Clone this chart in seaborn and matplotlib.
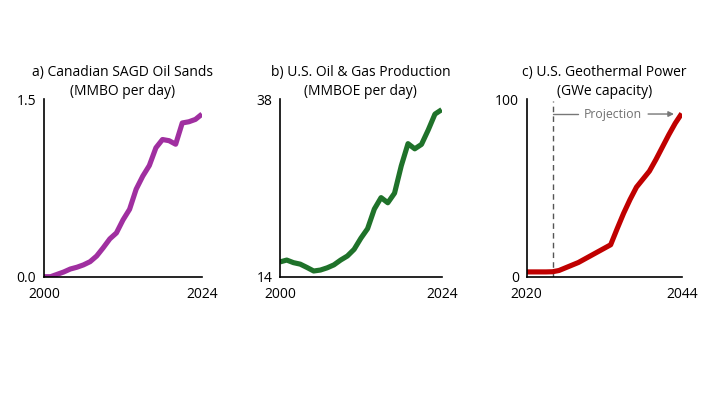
import matplotlib
matplotlib.use("Agg")
import matplotlib.pyplot as plt
import seaborn as sns
import pandas as pd

# ---- data ----
years_a = list(range(2000, 2025))
sagd = [0.0, 0.0, 0.02, 0.04, 0.065, 0.08, 0.10, 0.127, 0.175, 0.245, 0.32, 0.37,
        0.48, 0.57, 0.74, 0.85, 0.94, 1.09, 1.16, 1.15, 1.12, 1.30, 1.31, 1.33, 1.375]

years_b = list(range(2000, 2025))
us_oil_gas = [16.0, 16.25, 15.9, 15.7, 15.25, 14.77, 14.9, 15.2, 15.6, 16.25, 16.8, 17.7,
              19.2, 20.5, 23.15, 24.7, 24.0, 25.3, 29.0, 32.0, 31.3, 31.9, 33.85, 36.0, 36.6]

years_c = list(range(2020, 2045))
geothermal = [2.7, 2.7, 2.7, 2.7, 2.8, 3.5, 5.0, 6.5, 8.0, 10.0, 12.0, 14.0, 16.0, 18.0,
              27.0, 35.7, 43.5, 50.5, 55.0, 59.5, 66.0, 73.0, 80.0, 86.5, 92.0]

titles = ["a) Canadian SAGD Oil Sands\n(MMBO per day)",
          "b) U.S. Oil & Gas Production\n(MMBOE per day)",
          "c) U.S. Geothermal Power\n(GWe capacity)"]
y_ticks = [[0.0, 1.5], [14, 38], [0, 100]]
y_ticklabels = [["0.0", "1.5"], ["14", "38"], ["0", "100"]]
x_ticks = [[2000, 2024], [2000, 2024], [2020, 2044]]
colors = ["#A02FA0", "#1F722A", "#C00000"]
projection_start = 2024
projection_label = "Projection"

sns.set_theme(style="white")
plt.rcParams["font.family"] = ["Open Sans", "DejaVu Sans"]

fig = plt.figure(figsize=(7.12, 4.0), dpi=100)
positions = [
    [44 / 712, 123.3 / 400, 158 / 712, 177.4 / 400],
    [280 / 712, 123.3 / 400, 161.7 / 712, 177.4 / 400],
    [526.7 / 712, 123.3 / 400, 155 / 712, 177.4 / 400],
]
frames = [
    pd.DataFrame({"year": years_a, "value": sagd}),
    pd.DataFrame({"year": years_b, "value": us_oil_gas}),
    pd.DataFrame({"year": years_c, "value": geothermal}),
]

axes = []
for i in range(3):
    ax = fig.add_axes(positions[i])
    axes.append(ax)
    sns.lineplot(data=frames[i], x="year", y="value", ax=ax, color=colors[i],
                 linewidth=3.7, solid_joinstyle="round", solid_capstyle="butt")
    ax.set_xlim(x_ticks[i][0], x_ticks[i][1])
    ax.set_ylim(y_ticks[i][0], y_ticks[i][1])
    ax.set_xticks(x_ticks[i])
    ax.set_xticklabels([str(v) for v in x_ticks[i]])
    ax.set_yticks(y_ticks[i])
    ax.set_yticklabels(y_ticklabels[i])
    ax.set_xlabel("")
    ax.set_ylabel("")
    for s in ["top", "right"]:
        ax.spines[s].set_visible(False)
    for s in ["left", "bottom"]:
        ax.spines[s].set_color("black")
        ax.spines[s].set_linewidth(1.2)
    ax.tick_params(axis="both", which="both", direction="out", length=3, width=1,
                   color="black", labelsize=10, labelcolor="black", pad=2.5)
    ax.tick_params(axis="x", pad=4.5)
    ax.set_title(titles[i], fontsize=10, color="black", pad=3, linespacing=1.35)
    ax.patch.set_alpha(0)
    ax.grid(False)

# projection annotation on panel c
axc = axes[2]
axc.plot([projection_start, projection_start], [0, 99], color="#555555",
         linestyle=(0, (4, 3)), linewidth=1.0, zorder=1)
axc.plot([projection_start, 2028.0], [91.7, 91.7], color="#777777", linewidth=1.0)
axc.text(2033.4, 91.7, projection_label, ha="center", va="center",
         fontsize=8.8, color="#707070")
axc.annotate("", xy=(2042.8, 91.7), xytext=(2038.8, 91.7),
             arrowprops=dict(arrowstyle="-|>", color="#777777", lw=1.0,
                             mutation_scale=8, shrinkA=0, shrinkB=0))

fig.savefig("out.png", dpi=100, facecolor="white")
